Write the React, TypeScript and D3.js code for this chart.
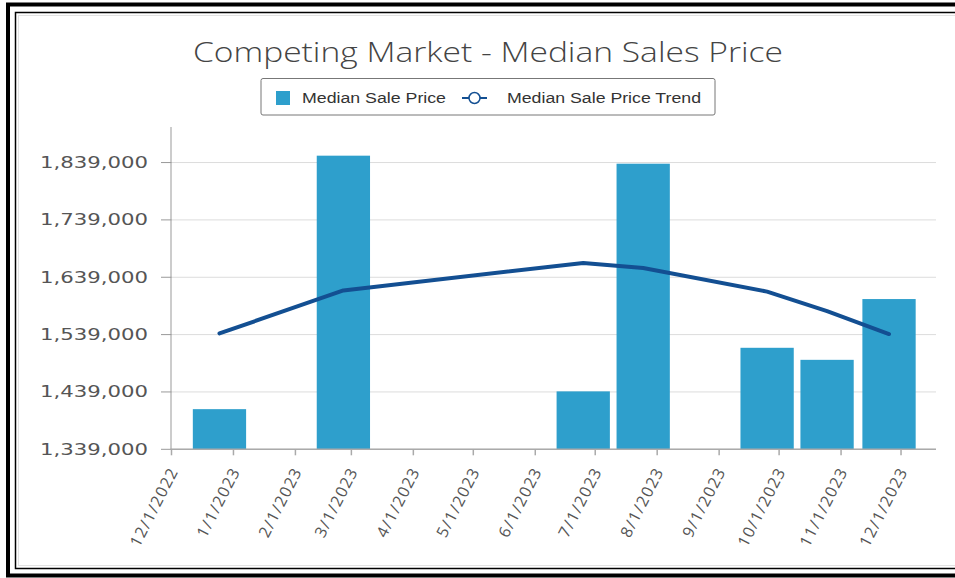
import React from "react";
import * as d3 from "d3";

// months that had sales (bars sit on the 25th)
const saleDates = ["2022-12-25", "2023-02-25", "2023-06-25", "2023-07-25", "2023-09-25", "2023-10-25", "2023-11-25"];
const medianPrice = [1409000, 1851000, 1440000, 1837000, 1516000, 1495000, 1601000];
const trendPrice = [1541000, 1616000, 1664000, 1655000, 1614000, 1580000, 1540000];
const yTicks = [1339000, 1439000, 1539000, 1639000, 1739000, 1839000];
const monthTicks = ["2022-12-01", "2023-01-01", "2023-02-01", "2023-03-01", "2023-04-01", "2023-05-01", "2023-06-01",
    "2023-07-01", "2023-08-01", "2023-09-01", "2023-10-01", "2023-11-01", "2023-12-01"];

const BAR_COLOR = "#2e9fcc";
const LINE_COLOR = "#134f92";

const parse = (s: string) => {
    const [y, m, d] = s.split("-").map(Number);
    return new Date(y, m - 1, d);
};

export default function App() {
    const width = 955;
    const height = 578;
    const left = 171.5, right = 936, top = 127, bottom = 449.3;

    const x = d3.scaleTime()
        .domain([parse("2022-12-01"), new Date(2023, 11, 18, 12)])
        .range([left, right]);
    const y = d3.scaleLinear().domain([1339000, 1901000]).range([bottom, top]);

    const fmt = d3.format(",");
    const labelFmt = (d: Date) => (d.getMonth() + 1) + "/" + d.getDate() + "/" + d.getFullYear();

    const barW = (x(parse("2023-01-01")) - x(parse("2022-12-01"))) * 0.86;

    const data = saleDates.map((s, i) => ({ date: parse(s), value: medianPrice[i], trend: trendPrice[i] }));

    const line = d3.line<{ date: Date; trend: number }>()
        .x(d => x(d.date))
        .y(d => y(d.trend));

    return (
        <svg width={width} height={height} style={{ position: "absolute", left: 0, top: 0, background: "#fff" }}>
            {/* frame */}
            <rect x={8} y={4.5} width={970} height={571} fill="none" stroke="#000" strokeWidth={4} />
            <rect x={15.5} y={12.5} width={960} height={556} fill="none" stroke="#000" strokeWidth={1.5} />
            <rect x={18.5} y={15.5} width={960} height={550} fill="none" stroke="#e2e2e2" strokeWidth={1} />

            {/* title */}
            <text x={488} y={62} textAnchor="middle" fontFamily="'Open Sans', sans-serif" fontWeight={300}
                fontSize={28} fill="#444" textLength={590} lengthAdjust="spacingAndGlyphs">
                Competing Market - Median Sales Price
            </text>

            {/* legend */}
            <rect x={261} y={78.5} width={454} height={36.5} rx={2} fill="#fff" stroke="#777" strokeWidth={1} />
            <rect x={276} y={91} width={14} height={14} fill={BAR_COLOR} />
            <text x={302} y={103} fontFamily="'Liberation Sans', Arial, sans-serif" fontSize={14} fill="#333"
                textLength={144} lengthAdjust="spacingAndGlyphs">Median Sale Price</text>
            <line x1={462} x2={487} y1={98} y2={98} stroke={LINE_COLOR} strokeWidth={2} />
            <circle cx={474.5} cy={98} r={5.5} fill="#fff" stroke={LINE_COLOR} strokeWidth={1.5} />
            <text x={507} y={103} fontFamily="'Liberation Sans', Arial, sans-serif" fontSize={14} fill="#333"
                textLength={194} lengthAdjust="spacingAndGlyphs">Median Sale Price Trend</text>

            {/* grid + y axis */}
            {yTicks.map(t => (
                <g key={t}>
                    <line x1={left} x2={right} y1={y(t)} y2={y(t)} stroke="#dcdcdc" strokeWidth={1} />
                    <line x1={161} x2={left} y1={y(t)} y2={y(t)} stroke="#999" strokeWidth={1} />
                    <text x={148} y={y(t)} dy="0.36em" textAnchor="end" fontFamily="'DejaVu Sans', sans-serif"
                        fontSize={15} fill="#555" textLength={108} lengthAdjust="spacingAndGlyphs">{fmt(t)}</text>
                </g>
            ))}
            <line x1={left - 0.5} x2={left - 0.5} y1={top} y2={bottom} stroke="#999" strokeWidth={1} />

            {/* bars */}
            {data.map(d => (
                <rect key={+d.date} x={x(d.date) - barW / 2} y={y(d.value)} width={barW}
                    height={bottom - y(d.value)} fill={BAR_COLOR} />
            ))}

            {/* x axis */}
            <line x1={left - 1} x2={right} y1={bottom} y2={bottom} stroke="#aaa" strokeWidth={1.5} />
            {monthTicks.map(s => {
                const d = parse(s);
                const tx = x(d);
                return (
                    <g key={s}>
                        <line x1={tx} x2={tx} y1={bottom} y2={bottom + 6} stroke="#aaa" strokeWidth={1.5} />
                        <text transform={`translate(${tx + 2},${bottom + 19}) rotate(-63)`} textAnchor="end"
                            dy="0.36em" fontFamily="'Open Sans', sans-serif" fontSize={16} fill="#555"
                            letterSpacing={1.2}>
                            {labelFmt(d)}
                        </text>
                    </g>
                );
            })}

            {/* trend line */}
            <path d={line(data) || ""} fill="none" stroke={LINE_COLOR} strokeWidth={4} strokeLinejoin="round" strokeLinecap="round" />
        </svg>
    );
}
